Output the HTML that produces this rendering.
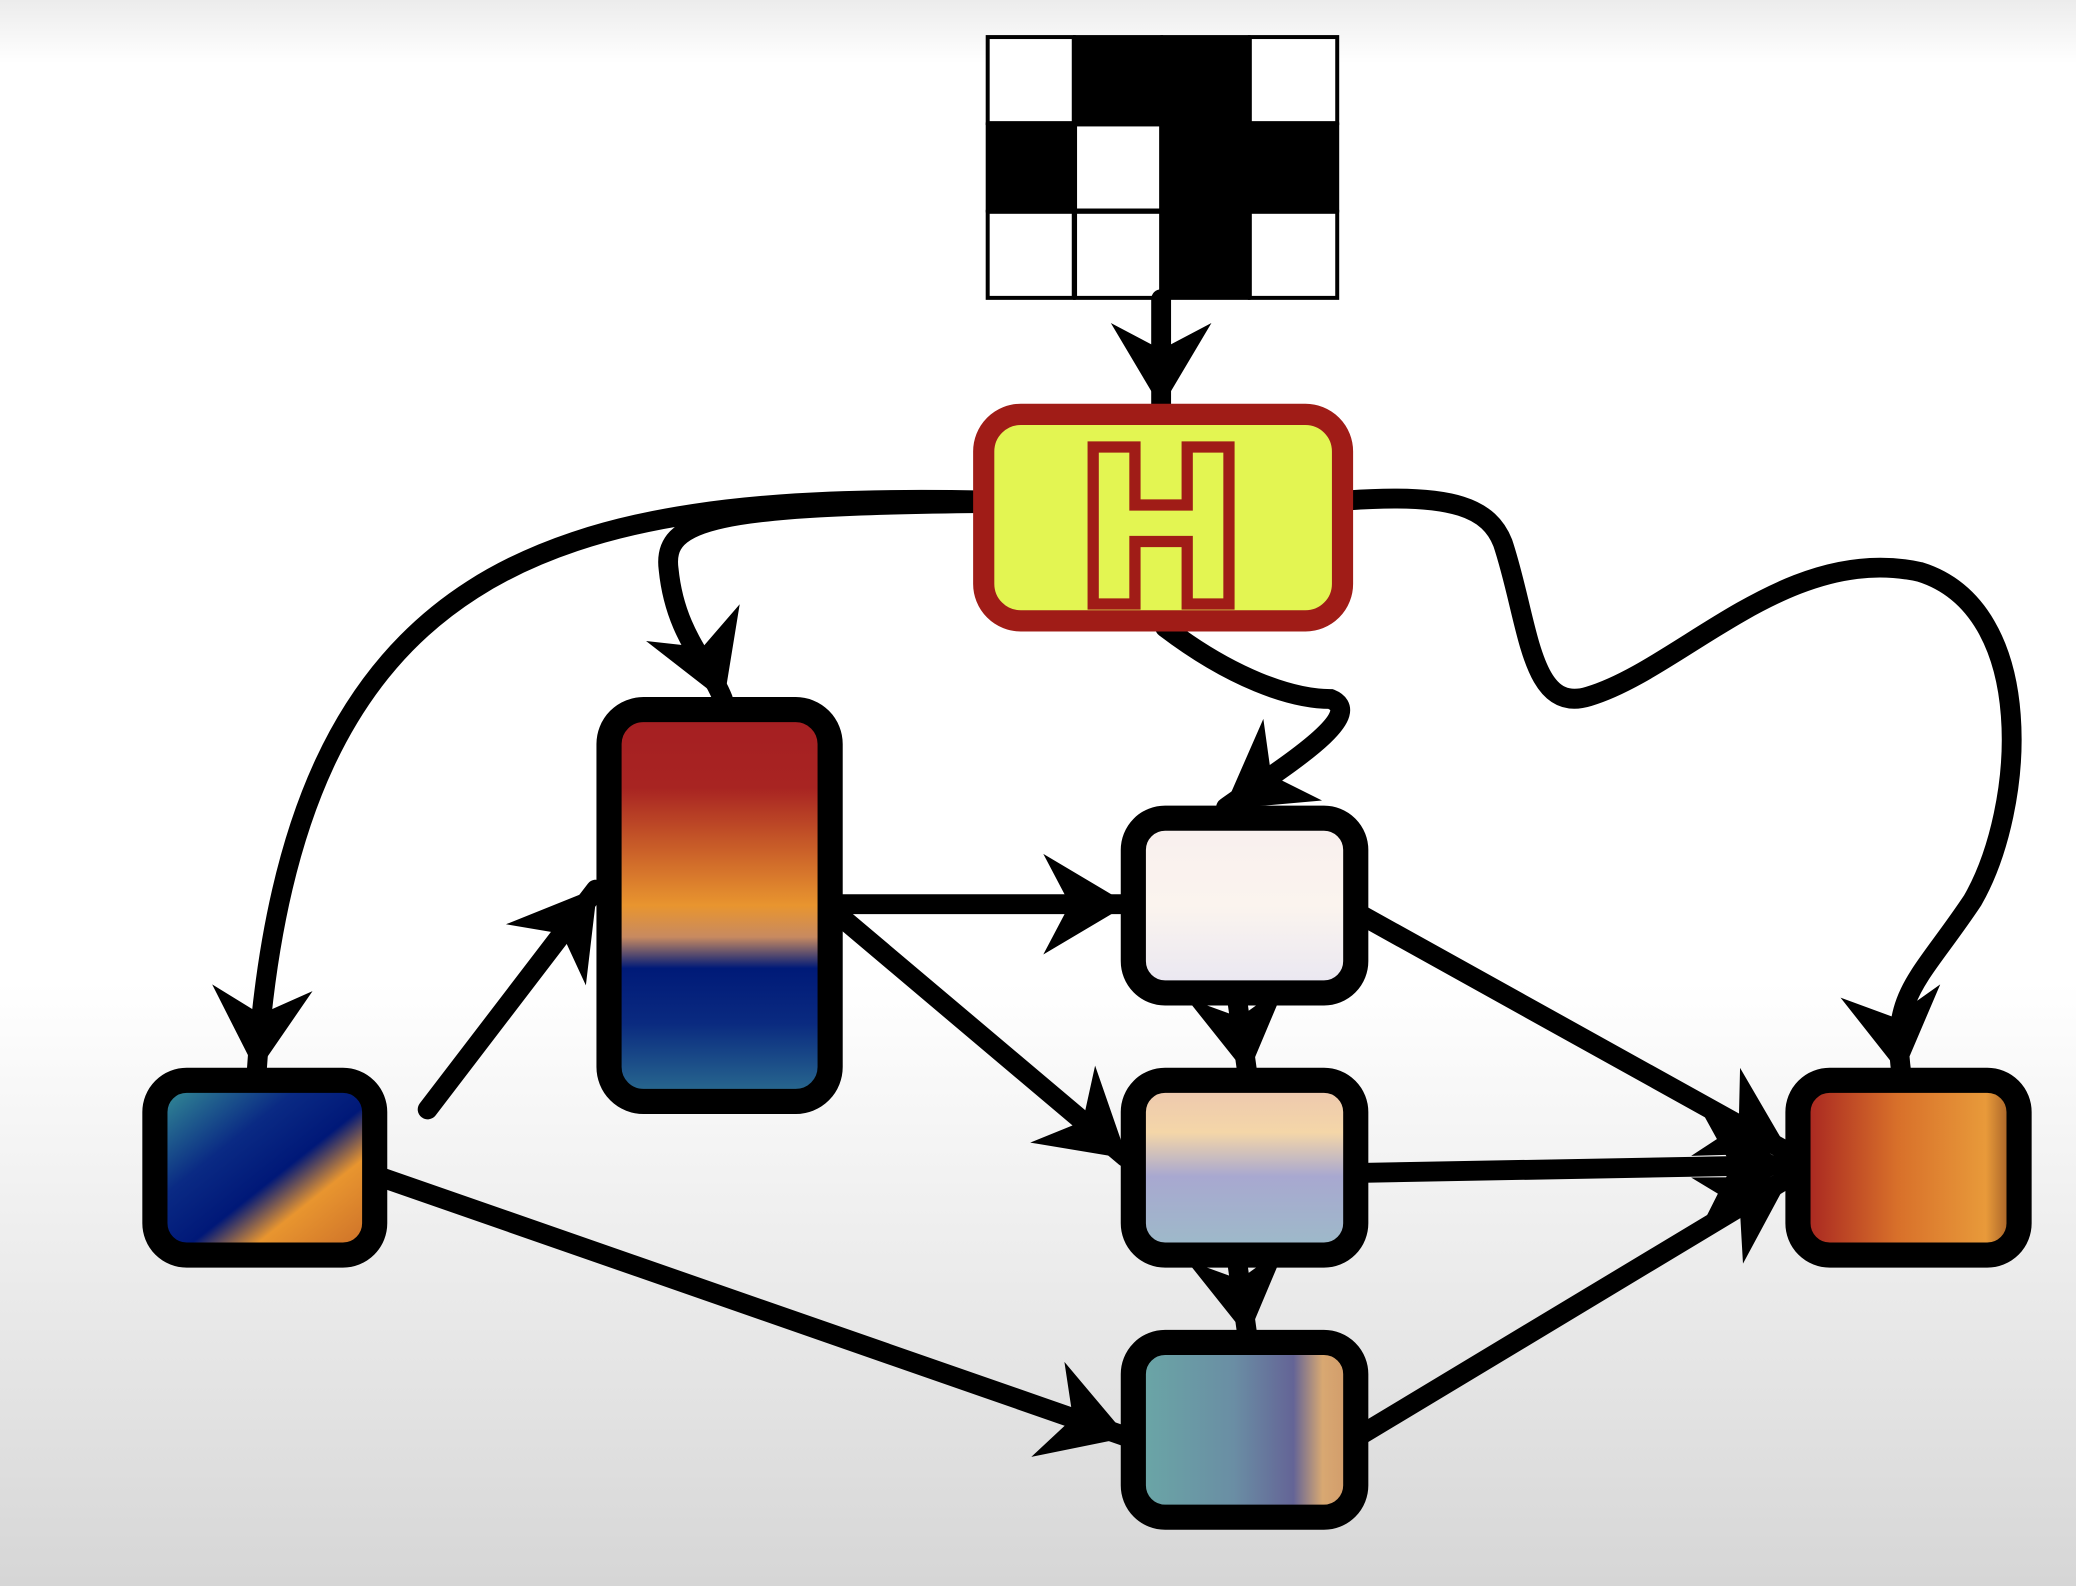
<!DOCTYPE html>
<html><head><meta charset="utf-8"><style>
html,body{margin:0;padding:0;width:2076px;height:1586px;overflow:hidden}
svg{display:block}
</style></head><body>
<svg width="2076" height="1586" viewBox="0 0 1568 1198" preserveAspectRatio="none" xmlns="http://www.w3.org/2000/svg">
<defs>
<linearGradient id="bg" x1="0" y1="0" x2="0" y2="1">
<stop offset="0" stop-color="#ececec"/><stop offset="0.04" stop-color="#ffffff"/><stop offset="0.62" stop-color="#ffffff"/><stop offset="1" stop-color="#d6d6d6"/>
</linearGradient>
<linearGradient id="gTall" x1="0" y1="0" x2="0" y2="1">
<stop offset="0" stop-color="#a51e22"/><stop offset="0.2" stop-color="#a82422"/><stop offset="0.5" stop-color="#e8952f"/><stop offset="0.58" stop-color="#c88a60"/><stop offset="0.66" stop-color="#001a78"/><stop offset="0.8" stop-color="#0a2a80"/><stop offset="1" stop-color="#2c7090"/>
</linearGradient>
<linearGradient id="gLeft" x1="0" y1="0" x2="1" y2="1">
<stop offset="0" stop-color="#3a9c98"/><stop offset="0.35" stop-color="#0a2a84"/><stop offset="0.55" stop-color="#001878"/><stop offset="0.7" stop-color="#e8952f"/><stop offset="1" stop-color="#c86a28"/>
</linearGradient>
<linearGradient id="gWhite" x1="0" y1="0" x2="0" y2="1">
<stop offset="0" stop-color="#f8efee"/><stop offset="0.5" stop-color="#fbf4ee"/><stop offset="1" stop-color="#e8e6f2"/>
</linearGradient>
<linearGradient id="gMid" x1="0" y1="0" x2="0" y2="1">
<stop offset="0" stop-color="#ecc6b0"/><stop offset="0.3" stop-color="#f4d6a8"/><stop offset="0.55" stop-color="#a8a8d0"/><stop offset="1" stop-color="#9cbcc8"/>
</linearGradient>
<linearGradient id="gBot" x1="0" y1="0" x2="1" y2="0">
<stop offset="0" stop-color="#6aa8a6"/><stop offset="0.45" stop-color="#6a8ea4"/><stop offset="0.72" stop-color="#646496"/><stop offset="0.85" stop-color="#d8a872"/><stop offset="1" stop-color="#d09868"/>
</linearGradient>
<linearGradient id="gRight" x1="0" y1="0" x2="1" y2="0">
<stop offset="0" stop-color="#a42020"/><stop offset="0.45" stop-color="#d8702a"/><stop offset="0.85" stop-color="#e89a3a"/><stop offset="1" stop-color="#8a4a20"/>
</linearGradient>
<marker id="ar" markerUnits="userSpaceOnUse" markerWidth="90" markerHeight="90" viewBox="-70 -45 80 90" refX="0" refY="0" orient="auto">
<path d="M2,0 L-62,-38 L-42,0 L-62,38 Z" fill="#000"/>
</marker>
</defs>
<rect width="1568" height="1198" fill="url(#bg)"/>

<g stroke="#000" stroke-width="3">
<rect x="746" y="28" width="65" height="65" fill="#fff"/>
<rect x="812" y="28" width="65" height="65" fill="#000"/>
<rect x="878" y="28" width="65" height="65" fill="#000"/>
<rect x="944" y="28" width="66" height="65" fill="#fff"/>
<rect x="746" y="94" width="65" height="65" fill="#000"/>
<rect x="812" y="94" width="65" height="65" fill="#fff"/>
<rect x="878" y="94" width="65" height="65" fill="#000"/>
<rect x="944" y="94" width="66" height="65" fill="#000"/>
<rect x="746" y="160" width="65" height="65" fill="#fff"/>
<rect x="812" y="160" width="65" height="65" fill="#fff"/>
<rect x="878" y="160" width="65" height="65" fill="#000"/>
<rect x="944" y="160" width="66" height="65" fill="#fff"/>
</g>

<g fill="none" stroke="#000" stroke-width="15" stroke-linecap="round">
<path d="M877,226 L877,306" marker-end="url(#ar)"/>
<path d="M742,378 C 420,372 220,420 194,808" marker-end="url(#ar)"/>
<path d="M742,380 C 540,382 500,392 505,430 C 510,480 535,500 546,528" marker-end="url(#ar)"/>
<path d="M880,474 C 930,512 975,528 1005,528 C 1035,540 965,582 926,610" marker-end="url(#ar)"/>
<path d="M1018,378 C 1100,372 1125,385 1135,410 C 1155,470 1155,540 1200,526 C 1270,505 1350,410 1450,432 C 1540,460 1530,610 1490,680 C 1450,740 1428,750 1436,810" marker-end="url(#ar)"/>
<path d="M323,838 L450,672" marker-end="url(#ar)"/>
<path d="M632,683 L850,683" marker-end="url(#ar)"/>
<path d="M632,690 L850,874" marker-end="url(#ar)"/>
<path d="M1026,690 L1350,870" marker-end="url(#ar)"/>
<path d="M1026,886 L1350,880" marker-end="url(#ar)"/>
<path d="M1026,1085 L1350,890" marker-end="url(#ar)"/>
<path d="M934,752 L942,810" marker-end="url(#ar)"/>
<path d="M934,950 L942,1008" marker-end="url(#ar)"/>
<path d="M290,890 L850,1085" marker-end="url(#ar)"/>
</g>

<rect x="743" y="313" width="271" height="156" rx="28" fill="#e3f552" stroke="#a01c17" stroke-width="16"/>
<text x="877" y="452" text-anchor="middle" font-family="Liberation Sans, sans-serif" font-weight="bold" font-size="160" fill="none" stroke="#a01c17" stroke-width="17" stroke-linejoin="miter">H</text>
<text x="877" y="452" text-anchor="middle" font-family="Liberation Sans, sans-serif" font-weight="bold" font-size="160" fill="#e3f552">H</text>

<g stroke="#000" stroke-width="19">
<rect x="460" y="536" width="167" height="296" rx="26" fill="url(#gTall)"/>
<rect x="117" y="816" width="166" height="132" rx="24" fill="url(#gLeft)"/>
<rect x="856" y="618" width="168" height="132" rx="24" fill="url(#gWhite)"/>
<rect x="856" y="816" width="168" height="132" rx="24" fill="url(#gMid)"/>
<rect x="856" y="1014" width="168" height="132" rx="24" fill="url(#gBot)"/>
<rect x="1358" y="816" width="167" height="132" rx="24" fill="url(#gRight)"/>
</g>
</svg>
</body></html>
